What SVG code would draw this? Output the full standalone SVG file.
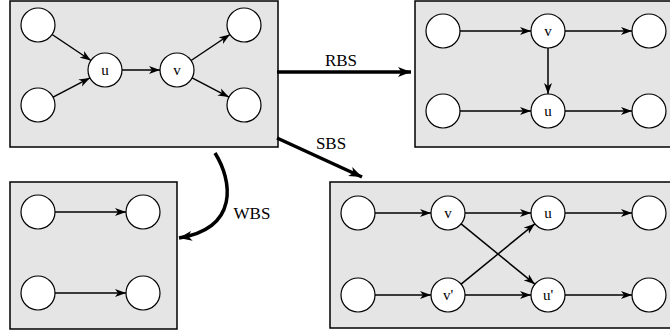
<svg xmlns="http://www.w3.org/2000/svg" width="670" height="334" viewBox="0 0 670 334">
<style>
.box{fill:#e5e5e5;stroke:#000;stroke-width:1.5}
.n circle{fill:#fff;stroke:#000;stroke-width:1.2}
.n text{font-family:"Liberation Serif",serif;font-size:15px;text-anchor:middle}
.e{stroke:#000;stroke-width:1.5;fill:none;marker-end:url(#a)}
.t{stroke:#000;stroke-width:3.5;fill:none;marker-end:url(#b)}
.lbl{font-family:"Liberation Serif",serif;font-size:17px;text-anchor:middle}
</style>
<defs>
<marker id="a" markerUnits="userSpaceOnUse" markerWidth="12" markerHeight="9" refX="11" refY="4" orient="auto" viewBox="0 0 12 8">
<path d="M0,0 L11,4 L0,8 L3,4 z" fill="#000"/>
</marker>
<marker id="b" markerUnits="userSpaceOnUse" markerWidth="14" markerHeight="11" refX="13" refY="5" orient="auto" viewBox="0 0 14 10">
<path d="M0,0 L13,5 L0,10 L3.5,5 z" fill="#000"/>
</marker>
</defs>
<g id="panels">
<rect class="box" x="10" y="1" width="268" height="146"/>
<rect class="box" x="415" y="1" width="262" height="146"/>
<rect class="box" x="10" y="182" width="167" height="147"/>
<rect class="box" x="330" y="182" width="347" height="146"/>
</g>
<g id="connectors">
<line class="e" x1="52.1" y1="34.5" x2="90.9" y2="60.5"/>
<line class="e" x1="53.1" y1="97.1" x2="89.9" y2="77.9"/>
<line class="e" x1="122" y1="70" x2="160" y2="70"/>
<line class="e" x1="191.1" y1="60.5" x2="229.9" y2="34.5"/>
<line class="e" x1="192.1" y1="77.9" x2="228.9" y2="97.1"/>
<line class="e" x1="460" y1="31" x2="531" y2="31"/>
<line class="e" x1="565" y1="31" x2="632" y2="31"/>
<line class="e" x1="548" y1="48" x2="548" y2="94"/>
<line class="e" x1="460" y1="111" x2="531" y2="111"/>
<line class="e" x1="565" y1="111" x2="632" y2="111"/>
<line class="e" x1="55" y1="212" x2="126" y2="212"/>
<line class="e" x1="55" y1="293" x2="126" y2="293"/>
<line class="e" x1="375" y1="213" x2="431" y2="213"/>
<line class="e" x1="465" y1="213" x2="531" y2="213"/>
<line class="e" x1="565" y1="213" x2="632" y2="213"/>
<line class="e" x1="375" y1="295" x2="431" y2="295"/>
<line class="e" x1="465" y1="295" x2="531" y2="295"/>
<line class="e" x1="565" y1="295" x2="632" y2="295"/>
<line class="e" x1="461.1" y1="223.8" x2="534.9" y2="284.2"/>
<line class="e" x1="461.1" y1="284.2" x2="534.9" y2="223.8"/>
<line class="t" x1="277" y1="72" x2="411" y2="72"/>
<line class="t" x1="277" y1="138" x2="362" y2="177"/>
<path class="t" d="M215,153 C232,180 240,228 179,238"/>
<text class="lbl" x="341" y="66">RBS</text>
<text class="lbl" x="331" y="149">SBS</text>
<text class="lbl" x="252" y="219">WBS</text>
</g>
<g id="n1a" class="n"><circle cx="38" cy="25" r="17"/></g>
<g id="n1b" class="n"><circle cx="38" cy="105" r="17"/></g>
<g id="n1u" class="n"><circle cx="105" cy="70" r="17"/><text x="105" y="75">u</text></g>
<g id="n1v" class="n"><circle cx="177" cy="70" r="17"/><text x="177" y="75">v</text></g>
<g id="n1c" class="n"><circle cx="244" cy="25" r="17"/></g>
<g id="n1d" class="n"><circle cx="244" cy="105" r="17"/></g>
<g id="n2a" class="n"><circle cx="443" cy="31" r="17"/></g>
<g id="n2b" class="n"><circle cx="443" cy="111" r="17"/></g>
<g id="n2v" class="n"><circle cx="548" cy="31" r="17"/><text x="548" y="36">v</text></g>
<g id="n2u" class="n"><circle cx="548" cy="111" r="17"/><text x="548" y="116">u</text></g>
<g id="n2c" class="n"><circle cx="649" cy="31" r="17"/></g>
<g id="n2d" class="n"><circle cx="649" cy="111" r="17"/></g>
<g id="n3a" class="n"><circle cx="38" cy="212" r="17"/></g>
<g id="n3b" class="n"><circle cx="143" cy="212" r="17"/></g>
<g id="n3c" class="n"><circle cx="38" cy="293" r="17"/></g>
<g id="n3d" class="n"><circle cx="143" cy="293" r="17"/></g>
<g id="n4a" class="n"><circle cx="358" cy="213" r="17"/></g>
<g id="n4v" class="n"><circle cx="448" cy="213" r="17"/><text x="448" y="218">v</text></g>
<g id="n4u" class="n"><circle cx="548" cy="213" r="17"/><text x="548" y="218">u</text></g>
<g id="n4c" class="n"><circle cx="649" cy="213" r="17"/></g>
<g id="n4b" class="n"><circle cx="358" cy="295" r="17"/></g>
<g id="n4v2" class="n"><circle cx="448" cy="295" r="17"/><text x="448" y="300">v'</text></g>
<g id="n4u2" class="n"><circle cx="548" cy="295" r="17"/><text x="548" y="300">u'</text></g>
<g id="n4d" class="n"><circle cx="649" cy="295" r="17"/></g>
</svg>
